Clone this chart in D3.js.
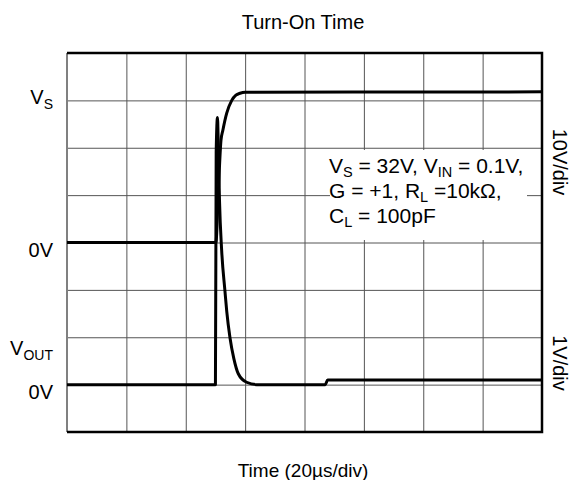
<!DOCTYPE html>
<html>
<head>
<meta charset="utf-8">
<script src="https://cdn.jsdelivr.net/npm/d3@7/dist/d3.min.js"></script>
<style>
  html, body { margin: 0; padding: 0; background: #fff; }
  svg { display: block; font-family: "Liberation Sans", Arial, sans-serif; }
</style>
</head>
<body>
<svg id="chart" width="575" height="480"></svg>
<script>
// Scope capture: 20 µs/div horizontally, 8 x 8 divisions.
const timeTicks = [0, 20, 40, 60, 80, 100, 120, 140, 160];   // µs
const divTicks  = [0, 1, 2, 3, 4, 5, 6, 7, 8];

// Supply channel (10 V/div, 0 V on division 4)
const vsTime  = [0, 50.15, 51.0, 51.87, 52.5, 53.8, 55.5, 56.9, 58.3, 60.0, 160];
const vsVolts = [0, 0, 11.1, 21.6, 23.7, 27.3, 30.0, 31.1, 31.5, 31.7, 31.8];

// Output channel (1 V/div, 0 V on division 1)
const outTime  = [0, 50.0, 50.25, 50.69, 50.93, 51.37, 52.1, 53.2, 53.8, 54.9, 56.2, 57.7, 60.5, 63.9, 87.0, 87.8, 160];
const outVolts = [0, 0, 4.9, 5.64, 5.15, 3.88, 2.83, 1.98, 1.55, 0.99, 0.55, 0.23, 0.05, 0, 0, 0.1, 0.1];

const title = "Turn-On Time";
const xTitle = "Time (20µs/div)";

const svg = d3.select("#chart");
const plotL = 67, plotR = 542, plotT = 53, plotB = 432;

const x = d3.scaleLinear().domain([0, 160]).range([plotL, plotR]);
const yDiv = d3.scaleLinear().domain([0, 8]).range([plotB, plotT]);
const yVs = d3.scaleLinear().domain([-40, 40]).range([plotB, plotT]);
const yOut = d3.scaleLinear().domain([-1, 7]).range([plotB, plotT]);

// Grid
const grid = svg.append("g");
grid.append("g")
  .attr("transform", `translate(0,${plotB})`)
  .call(d3.axisBottom(x).tickValues(timeTicks).tickSize(-(plotB - plotT)).tickFormat(""))
  .call(g => g.select(".domain").remove())
  .call(g => g.selectAll("line").attr("stroke", "#555").attr("stroke-width", 1));
grid.append("g")
  .attr("transform", `translate(${plotL},0)`)
  .call(d3.axisLeft(yDiv).tickValues(divTicks).tickSize(-(plotR - plotL)).tickFormat(""))
  .call(g => g.select(".domain").remove())
  .call(g => g.selectAll("line").attr("stroke", "#555").attr("stroke-width", 1));

// Frame: grey left edge, heavy black top/right/bottom edges
svg.append("line").attr("x1", plotL).attr("x2", plotL).attr("y1", plotT).attr("y2", plotB)
  .attr("stroke", "#808080").attr("stroke-width", 2);
svg.append("path")
  .attr("d", `M${plotL},${plotT}H${plotR}V${plotB}H${plotL}`)
  .attr("fill", "none").attr("stroke", "#000").attr("stroke-width", 2.5);

// Traces
const vsData = vsTime.map((t, i) => [t, vsVolts[i]]);
const outData = outTime.map((t, i) => [t, outVolts[i]]);

svg.append("path").datum(vsData)
  .attr("fill", "none").attr("stroke", "#000").attr("stroke-width", 3)
  .attr("stroke-linejoin", "round")
  .attr("d", d3.line().x(d => x(d[0])).y(d => yVs(d[1])).curve(d3.curveMonotoneX));

svg.append("path").datum(outData)
  .attr("fill", "none").attr("stroke", "#000").attr("stroke-width", 3)
  .attr("stroke-linejoin", "round")
  .attr("d", d3.line().x(d => x(d[0])).y(d => yOut(d[1])).curve(d3.curveMonotoneX));

// Conditions box
svg.append("rect").attr("x", 330).attr("y", 150).attr("width", 197).attr("height", 90).attr("fill", "#fff");
const note = svg.append("text").attr("font-size", 21).attr("fill", "#000");
function noteLine(parts, y) {
  const t = note.append("tspan").attr("x", 329).attr("y", y);
  let shifted = false;
  parts.forEach(p => {
    if (typeof p === "string") {
      const s = t.append("tspan").text(p);
      if (shifted) s.attr("dy", -4);
      shifted = false;
    } else {
      t.append("tspan").attr("font-size", 14.5).attr("dy", 4).text(p.sub);
      shifted = true;
    }
  });
}
noteLine(["V", {sub: "S"}, " = 32V, V", {sub: "IN"}, " = 0.1V,"], 173);
noteLine(["G = +1, R", {sub: "L"}, " =10kΩ,"], 198);
noteLine(["C", {sub: "L"}, " = 100pF"], 223);

// Titles
svg.append("text").attr("x", 303).attr("y", 29).attr("text-anchor", "middle")
  .attr("font-size", 20).text(title);
svg.append("text").attr("x", 303).attr("y", 477).attr("text-anchor", "middle")
  .attr("font-size", 19).text(xTitle);

// Channel level labels on the left
function levelLabel(main, sub, y) {
  const t = svg.append("text").attr("x", 53).attr("y", y).attr("text-anchor", "end").attr("font-size", 20);
  t.append("tspan").text(main);
  if (sub) t.append("tspan").attr("font-size", 14).attr("dy", 5).text(sub);
}
levelLabel("V", "S", yDiv(7) + 4);
levelLabel("0V", null, yVs(0) + 14);
levelLabel("V", "OUT", yDiv(2) + 18);
levelLabel("0V", null, yOut(0) + 14);

// Channel scale labels on the right
[["10V/div", 162], ["1V/div", 363]].forEach(([txt, cy]) => {
  svg.append("text")
    .attr("transform", `translate(553,${cy}) rotate(90)`)
    .attr("text-anchor", "middle").attr("font-size", 20).text(txt);
});
</script>
</body>
</html>
